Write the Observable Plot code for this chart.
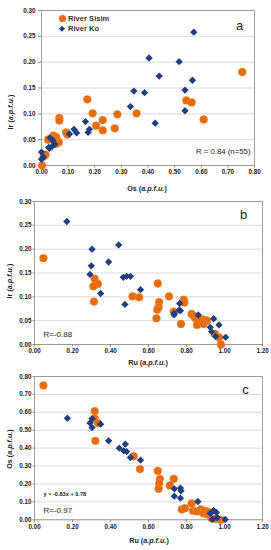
<!DOCTYPE html>
<html>
<head>
<meta charset="utf-8">
<script src="https://cdn.jsdelivr.net/npm/d3@7"></script>
<script src="https://cdn.jsdelivr.net/npm/@observablehq/plot@0.6"></script>
<style>
  html, body { margin: 0; padding: 0; background: #fff; }
  #wrap { position: relative; width: 271px; height: 550px; overflow: hidden; font-family: "Liberation Sans", Arial, sans-serif; }
  #wrap svg { position: absolute; left: 0; }
</style>
</head>
<body>
<div id="wrap"></div>
<script>
// ---------- Data ----------
// Panel a: Os vs Ir
const sisimOs_a = [0.754,0.609,0.544,0.564,0.357,0.285,0.275,0.230,0.230,0.205,0.192,0.172,0.092,0.097,0.067,0.067,0.045,0.055,0.035,0.025,0.060,0.055,0.065,0.048,0.015,0.008,0.002,0.050];
const sisimIr_a = [0.181,0.089,0.126,0.122,0.101,0.099,0.072,0.088,0.068,0.077,0.101,0.128,0.064,0.060,0.092,0.087,0.058,0.055,0.053,0.050,0.048,0.042,0.045,0.050,0.021,0.018,0.000,0.045];
const koOs_a = [0.572,0.404,0.517,0.442,0.567,0.347,0.387,0.539,0.334,0.539,0.427,0.165,0.122,0.132,0.175,0.180,0.105,0.000,0.007,0.000,0.032,0.042,0.027,0.040,0.050,0.030];
const koIr_a = [0.258,0.208,0.201,0.173,0.165,0.144,0.141,0.146,0.114,0.106,0.082,0.085,0.070,0.063,0.064,0.070,0.061,0.026,0.016,0.012,0.053,0.049,0.035,0.037,0.041,0.033];

// Panel b: Ru vs Ir
const sisimRu_b = [0.047,0.649,0.317,0.334,0.310,0.313,0.516,0.551,0.708,0.656,0.653,0.646,0.785,0.789,0.733,0.642,0.771,0.827,0.838,0.848,0.880,0.897,0.908,0.855,0.890,0.950,0.971,0.981];
const sisimIr_b = [0.181,0.128,0.138,0.127,0.122,0.090,0.101,0.099,0.101,0.089,0.078,0.073,0.094,0.088,0.069,0.055,0.043,0.064,0.060,0.055,0.053,0.051,0.050,0.041,0.043,0.022,0.015,0.000];
const koRu_b = [0.170,0.303,0.443,0.299,0.390,0.292,0.467,0.485,0.505,0.348,0.558,0.476,0.764,0.735,0.735,0.761,0.768,0.862,0.943,0.971,0.925,0.932,0.953,1.006];
const koIr_b = [0.258,0.200,0.209,0.165,0.173,0.147,0.141,0.143,0.143,0.107,0.115,0.084,0.086,0.065,0.062,0.072,0.071,0.062,0.054,0.041,0.036,0.027,0.017,0.015];

// Panel c: Ru vs Os
const sisimRu_c = [0.047,0.317,0.317,0.334,0.320,0.523,0.555,0.649,0.660,0.656,0.653,0.712,0.733,0.775,0.792,0.827,0.834,0.855,0.876,0.883,0.890,0.900,0.911,0.918,0.932,0.953,0.981];
const sisimOs_c = [0.750,0.607,0.565,0.540,0.441,0.355,0.283,0.273,0.229,0.203,0.173,0.192,0.229,0.058,0.065,0.091,0.050,0.047,0.058,0.043,0.036,0.049,0.030,0.043,0.009,0.005,0.000];
const koRu_c = [0.173,0.303,0.292,0.348,0.303,0.390,0.446,0.478,0.470,0.485,0.505,0.558,0.736,0.736,0.768,0.771,0.768,0.860,0.925,0.943,0.957,0.936,0.962,1.004];
const koOs_c = [0.567,0.564,0.541,0.534,0.515,0.441,0.400,0.422,0.385,0.381,0.348,0.333,0.173,0.132,0.177,0.162,0.121,0.102,0.035,0.052,0.041,0.002,0.013,0.002];

// Tick values
const ticksOs_a = [0,0.1,0.2,0.3,0.4,0.5,0.6,0.7,0.8];
const ticksIr = [0,0.05,0.1,0.15,0.2,0.25,0.3];
const ticksRu = [0,0.2,0.4,0.6,0.8,1.0,1.2];
const ticksOs_c = [0,0.1,0.2,0.3,0.4,0.5,0.6,0.7,0.8];

const seriesNames = ["River Sisim", "River Ko"];
const colorSisim = "#E46C0A";
const colorKo = "#1F3F7F";

const fmt = d3.format(".2f");
const zip = (xs, ys) => xs.map((x, i) => ({x, y: ys[i]}));

function panel(cfg) {
  const marks = [
    Plot.gridY(cfg.yTicks, {stroke: "#cfcfcf", strokeOpacity: 1, strokeWidth: 0.8}),
    Plot.frame({stroke: "#8a8a8a", strokeWidth: 0.8}),
    Plot.axisX(cfg.xTicks, {tickFormat: fmt, tickSize: 2.5, tickPadding: 2, stroke: "#8a8a8a", label: null}),
    Plot.axisY(cfg.yTicks, {tickFormat: fmt, tickSize: cfg.yTickSize, tickPadding: cfg.yTickPad, stroke: "#8a8a8a", label: null}),
    Plot.dot(zip(cfg.sx, cfg.sy), {x: "x", y: "y", r: 3.9, fill: colorSisim, stroke: "#F08A3C", strokeWidth: 0.5}),
    Plot.dot(zip(cfg.kx, cfg.ky), {x: "x", y: "y", symbol: "diamond2", r: 3.3, fill: colorKo, stroke: "none"}),
    Plot.text([cfg.letter], {frameAnchor: "top-right", textAnchor: "middle", lineAnchor: "middle", dx: cfg.letterDx, dy: cfg.letterDy, fontSize: 13, fontWeight: "normal", fill: "#222"}),
    ...cfg.notes.map(n => Plot.text([n.text], {frameAnchor: n.anchor, textAnchor: n.textAnchor, lineAnchor: "middle", dx: n.dx, dy: n.dy, fontSize: n.size, fontWeight: n.weight, fill: "#222"}))
  ];
  const svg = Plot.plot({
    width: 271,
    height: cfg.height,
    marginTop: cfg.mt, marginBottom: cfg.mb, marginLeft: cfg.ml, marginRight: cfg.mr,
    x: {domain: cfg.xDomain, label: null},
    y: {domain: cfg.yDomain, label: null},
    style: {fontFamily: "'Liberation Sans', Arial, sans-serif", fontSize: "6.3px", fontWeight: "bold", color: "#222", background: "transparent", overflow: "visible"},
    marks
  });
  svg.style.top = cfg.top + "px";
  return svg;
}

function addTitle(svg, x, y, rotate, main, ital) {
  const t = d3.select(svg).append("text")
    .attr("transform", `translate(${x},${y})` + (rotate ? " rotate(-90)" : ""))
    .attr("text-anchor", "middle")
    .attr("dominant-baseline", "middle")
    .attr("font-family", "'Liberation Sans', Arial, sans-serif")
    .attr("font-size", "7.2px")
    .attr("font-weight", "bold")
    .attr("fill", "#222");
  t.append("tspan").text(main + " (");
  t.append("tspan").attr("font-style", "italic").text(ital);
  t.append("tspan").text(")");
}

const wrap = document.getElementById("wrap");

// Panel a
const svgA = panel({
  top: 0, height: 197, mt: 10, mb: 32, ml: 41, mr: 17,
  xDomain: [0, 0.8], yDomain: [0, 0.3], xTicks: ticksOs_a, yTicks: ticksIr,
  yTickSize: 3, yTickPad: 3,
  sx: sisimOs_a, sy: sisimIr_a, kx: koOs_a, ky: koIr_a,
  letter: "a", letterDx: -15, letterDy: 15,
  notes: [{text: "R = 0.84 (n=55)", anchor: "bottom-right", textAnchor: "end", dx: -4, dy: -14, size: 7.8, weight: "normal"}]
});
wrap.appendChild(svgA);
addTitle(svgA, 11, 112, true, "Ir", "a.p.f.u.");
addTitle(svgA, 147, 189, false, "Os", "a.p.f.u.");
// legend
{
  const g = d3.select(svgA).append("g")
    .attr("font-family", "'Liberation Sans', Arial, sans-serif")
    .attr("font-size", "7.6px").attr("font-weight", "bold").attr("fill", "#333")
    .attr("text-anchor", "start");
  g.append("circle").attr("cx", 62.5).attr("cy", 18.5).attr("r", 3.6).attr("fill", colorSisim);
  g.append("path").attr("transform", "translate(62,28.7)").attr("d", d3.symbol(d3.symbolDiamond2, 24)()).attr("fill", colorKo);
  g.append("text").attr("x", 68).attr("y", 18.5).attr("text-anchor", "start").attr("dominant-baseline", "middle").text(seriesNames[0]);
  g.append("text").attr("x", 68).attr("y", 28.7).attr("text-anchor", "start").attr("dominant-baseline", "middle").text(seriesNames[1]);
}

// Panel b
const svgB = panel({
  top: 197, height: 170, mt: 4, mb: 23, ml: 34, mr: 9,
  xDomain: [0, 1.2], yDomain: [0, 0.3], xTicks: ticksRu, yTicks: ticksIr,
  yTickSize: 1.5, yTickPad: 1.5,
  sx: sisimRu_b, sy: sisimIr_b, kx: koRu_b, ky: koIr_b,
  letter: "b", letterDx: -19, letterDy: 13,
  notes: [{text: "R=-0.88", anchor: "bottom-left", textAnchor: "start", dx: 9, dy: -10, size: 8, weight: "normal"}]
});
wrap.appendChild(svgB);
addTitle(svgB, 10, 84, true, "Ir", "a.p.f.u.");
addTitle(svgB, 148, 166, false, "Ru", "a.p.f.u.");

// Panel c
const svgC = panel({
  top: 365, height: 185, mt: 11, mb: 30.7, ml: 34, mr: 9,
  xDomain: [0, 1.2], yDomain: [0, 0.8], xTicks: ticksRu, yTicks: ticksOs_c,
  yTickSize: 1.5, yTickPad: 1.5,
  sx: sisimRu_c, sy: sisimOs_c, kx: koRu_c, ky: koOs_c,
  letter: "c", letterDx: -17, letterDy: 13,
  notes: [
    {text: "y = -0.83x + 0.78", anchor: "bottom-left", textAnchor: "start", dx: 9, dy: -25.6, size: 5.6, weight: "bold"},
    {text: "R=-0.97", anchor: "bottom-left", textAnchor: "start", dx: 9, dy: -9, size: 8, weight: "normal"}
  ]
});
wrap.appendChild(svgC);
addTitle(svgC, 10, 84, true, "Os", "a.p.f.u.");
addTitle(svgC, 149, 176, false, "Ru", "a.p.f.u.");
</script>
</body>
</html>
